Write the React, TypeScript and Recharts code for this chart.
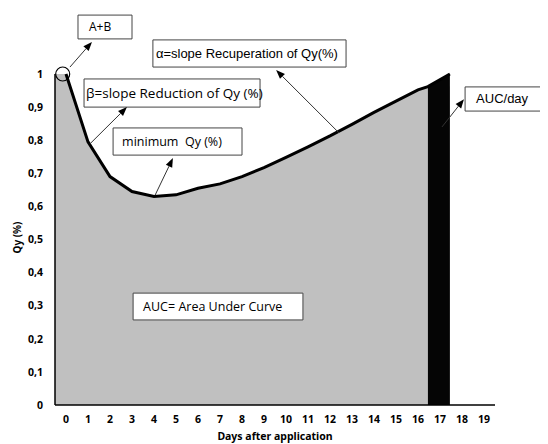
import { ComposedChart, Area, Line, XAxis, YAxis, ReferenceArea, ReferenceLine, ReferenceDot } from "recharts";

// Qy (%), one value per day
const DAYS = [0, 1, 2, 3, 4, 5, 6, 7, 8, 9, 10, 11, 12, 13, 14, 15, 16];
const QY = [1, 0.795, 0.69, 0.645, 0.63, 0.635, 0.655, 0.668, 0.69, 0.717, 0.748, 0.78, 0.813, 0.848, 0.884, 0.918, 0.952];

// grey fill starts at the axis, black "AUC/day" slice sits after day 16
const FILL_START = { day: -0.5, qy: 1 };
const SLICE_DAYS = [16.45, 17.45];
const SLICE_QY = [0.962, 1];

const X_TICKS = [0, 1, 2, 3, 4, 5, 6, 7, 8, 9, 10, 11, 12, 13, 14, 15, 16, 17, 18, 19];
const Y_TICKS = [0, 0.1, 0.2, 0.3, 0.4, 0.5, 0.6, 0.7, 0.8, 0.9, 1];

type Note = { text: string; x1: number; x2: number; y1: number; y2: number; pad: number; size: number; font: string };

const NOTES: Note[] = [
  { text: "A+B", x1: 0.545, x2: 3.0, y1: 1.106, y2: 1.178, pad: 11, size: 12, font: "Open Sans" },
  { text: "α=slope Recuperation of Qy(%)", x1: 3.95, x2: 12.73, y1: 1.021, y2: 1.103, pad: 3, size: 13, font: "Liberation Sans" },
  { text: "β=slope Reduction of Qy (%)", x1: 0.82, x2: 8.82, y1: 0.9, y2: 0.985, pad: 2, size: 13.5, font: "Open Sans" },
  { text: "minimum  Qy (%)", x1: 2.14, x2: 8.0, y1: 0.755, y2: 0.837, pad: 9, size: 12.5, font: "Open Sans" },
  { text: "AUC= Area Under Curve", x1: 3.05, x2: 10.77, y1: 0.257, y2: 0.338, pad: 10, size: 12.5, font: "Open Sans" },
  { text: "AUC/day", x1: 18.14, x2: 22.5, y1: 0.888, y2: 0.961, pad: 11, size: 13, font: "Liberation Sans" },
];

// arrows: from the curve towards the note
const ARROWS = [
  [{ x: 0.18, y: 1.021 }, { x: 1.18, y: 1.097 }],
  [{ x: 1.09, y: 0.789 }, { x: 2.77, y: 0.9 }],
  [{ x: 4.05, y: 0.634 }, { x: 4.86, y: 0.746 }],
  [{ x: 12.41, y: 0.822 }, { x: 9.55, y: 1.012 }],
  [{ x: 17.09, y: 0.84 }, { x: 18.09, y: 0.924 }],
];

const curve = DAYS.map((d, i) => ({ day: d, qy: QY[i] }));
const slice = SLICE_DAYS.map((d, i) => ({ day: d, qy: SLICE_QY[i] }));
const greyData = [FILL_START, ...curve, slice[0]];
const lineData = [...curve, ...slice];

const BoxText = (props: any) => {
  const { viewBox, text, pad, size, font } = props;
  return (
    <text
      x={viewBox.x + pad}
      y={viewBox.y + viewBox.height / 2}
      dominantBaseline="central"
      fontSize={size}
      fontFamily={font}
      fill="#000"
      style={{ whiteSpace: "pre" }}
    >
      {text}
    </text>
  );
};

const Arrow = (props: any) => {
  const { x1, y1, x2, y2 } = props;
  const a = Math.atan2(y2 - y1, x2 - x1);
  const len = 9;
  const w = 3.5;
  const bx = x2 - len * Math.cos(a);
  const by = y2 - len * Math.sin(a);
  const px = -Math.sin(a) * w;
  const py = Math.cos(a) * w;
  return (
    <g>
      <line x1={x1} y1={y1} x2={bx} y2={by} stroke="#333" strokeWidth={1} />
      <polygon points={`${x2},${y2} ${bx + px},${by + py} ${bx - px},${by - py}`} fill="#000" />
    </g>
  );
};

const XTitle = (props: any) => {
  const { viewBox } = props;
  return (
    <text
      x={viewBox.x + viewBox.width / 2}
      y={viewBox.y + viewBox.height - 4}
      textAnchor="middle"
      fontSize={10.5}
      fontWeight={700}
      fontFamily="Noto Sans"
      fill="#000"
    >
      Days after application
    </text>
  );
};

const YTitle = (props: any) => {
  const { viewBox } = props;
  const x = viewBox.x + 9;
  const y = viewBox.y + viewBox.height / 2 - 2;
  return (
    <text
      x={x}
      y={y}
      transform={`rotate(-90 ${x} ${y})`}
      textAnchor="middle"
      dominantBaseline="central"
      fontSize={10}
      fontWeight={700}
      fontFamily="Noto Sans"
      fill="#000"
    >
      Qy (%)
    </text>
  );
};

const tickStyle = { fontSize: 10.5, fontWeight: 700, fontFamily: "Noto Sans", fill: "#000" };

export default function App() {
  return (
    <div style={{ width: 540, height: 436 }}>
      <ComposedChart width={540} height={436} margin={{ top: 66, right: 53, bottom: 0, left: 0 }}>
        <XAxis
          type="number"
          dataKey="day"
          domain={[-0.5, 19.5]}
          ticks={X_TICKS}
          interval={0}
          height={39}
          tickLine={false}
          tickMargin={5}
          axisLine={{ stroke: "#000", strokeWidth: 1.5 }}
          tick={tickStyle}
          label={<XTitle />}
        />
        <YAxis
          type="number"
          dataKey="qy"
          domain={[0, 1]}
          ticks={Y_TICKS}
          width={47}
          tickLine={false}
          tickMargin={6}
          axisLine={{ stroke: "#000", strokeWidth: 1.5 }}
          tick={tickStyle}
          tickFormatter={(v: number) => String(v).replace(".", ",")}
          label={<YTitle />}
        />
        <Area
          data={greyData}
          dataKey="qy"
          type="linear"
          fill="#c0c0c0"
          fillOpacity={1}
          stroke="none"
          isAnimationActive={false}
        />
        <Area
          data={slice}
          dataKey="qy"
          type="linear"
          fill="#050505"
          fillOpacity={1}
          stroke="none"
          isAnimationActive={false}
        />
        <Line
          data={lineData}
          dataKey="qy"
          type="linear"
          stroke="#000"
          strokeWidth={3}
          dot={false}
          isAnimationActive={false}
        />
        {NOTES.map((n) => (
          <ReferenceArea
            key={n.text}
            x1={n.x1}
            x2={n.x2}
            y1={n.y1}
            y2={n.y2}
            ifOverflow="visible"
            fill="#fff"
            fillOpacity={1}
            stroke="#444"
            strokeWidth={1}
            label={<BoxText text={n.text} pad={n.pad} size={n.size} font={n.font} />}
          />
        ))}
        {ARROWS.map((seg, i) => (
          <ReferenceLine key={i} segment={seg} ifOverflow="visible" shape={<Arrow />} />
        ))}
        <ReferenceDot x={-0.15} y={1} r={7} fill="none" stroke="#000" strokeWidth={1.2} ifOverflow="visible" />
      </ComposedChart>
    </div>
  );
}
